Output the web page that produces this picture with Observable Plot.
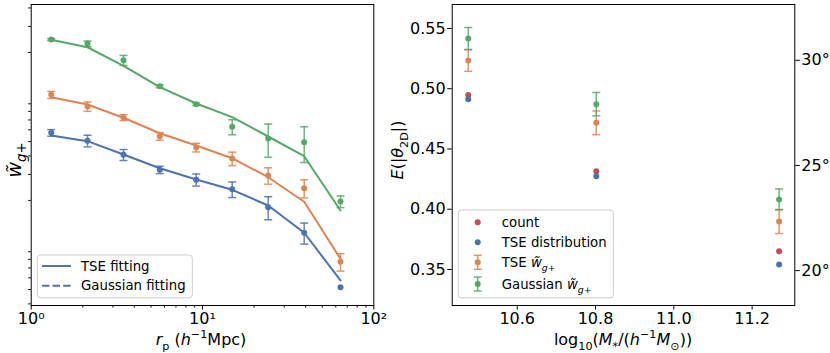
<!DOCTYPE html>
<html><head><meta charset="utf-8">
<script src="https://cdn.jsdelivr.net/npm/d3@7"></script>
<script src="https://cdn.jsdelivr.net/npm/@observablehq/plot@0.6"></script>
<style>
body{margin:0;background:#fff;}
#wrap{position:relative;width:830px;height:353px;background:#fff;font-family:"DejaVu Sans";}
#wrap svg{position:absolute;top:0;overflow:visible;}
</style></head><body><div id="wrap"></div>
<script>
// ---------- data: left panel (projected correlation w~g+ vs r_p) ----------
const rp = [1.309, 2.132, 3.458, 5.632, 9.19, 14.91, 24.18, 39.24, 63.9];
// blue series
const wgpBlue    = [0.00573, 0.00506, 0.00407, 0.00322, 0.00276, 0.00238, 0.00180, 0.00121, 0.000519];
const wgpBlueErr = [0.000294, 0.000456, 0.000348, 0.000185, 0.000257, 0.000288, 0.000319, 0.000196, 0];
const fitBlue    = [0.00550, 0.00503, 0.00409, 0.00330, 0.00277, 0.00236, 0.00185, 0.00121, 0.000576];
// orange series
const wgpOrange    = [0.01035, 0.00863, 0.00727, 0.00543, 0.00456, 0.00384, 0.00295, 0.00242, 0.00077];
const wgpOrangeErr = [0.000563, 0.000627, 0.00034, 0.000321, 0.000305, 0.0004, 0.000375, 0.000337, 0.000104];
const fitOrange    = [0.00997, 0.00890, 0.00724, 0.00569, 0.00470, 0.00386, 0.00287, 0.00196, 0.000807];
// green series
const wgpGreen    = [0.02445, 0.02288, 0.01773, 0.01183, 0.00894, 0.00629, 0.00524, 0.00495, 0.001967];
const wgpGreenErr = [0.00038, 0.00102, 0.00138, 0.000276, 0.000174, 0.000732, 0.00132, 0.00134, 0.000179];
const fitGreen    = [0.02435, 0.02170, 0.01625, 0.01165, 0.00904, 0.00731, 0.00541, 0.00398, 0.00171];
const xMajorTicks  = [1, 10, 100];
const xMajorLabels = ["10⁰", "10¹", "10²"];
const leftLegend   = ["TSE fitting", "Gaussian fitting"];

// ---------- data: right panel (E(|theta_2D|) vs stellar mass) ----------
const massBins    = [10.475, 10.802, 11.269];
const countE      = [0.4947, 0.4316, 0.3652];
const tseDistE    = [0.4913, 0.4274, 0.3541];
const tseWgpE     = [0.5234, 0.4717, 0.3898];
const tseWgpErr   = [0.0089, 0.0098, 0.0100];
const gaussWgpE   = [0.5417, 0.4872, 0.4081];
const gaussWgpErr = [0.0091, 0.0097, 0.0087];
const massTicks = [10.6, 10.8, 11.0, 11.2];
const eTicks    = [0.35, 0.40, 0.45, 0.50, 0.55];
const degTicks  = [20, 25, 30];

const C = {blue:"#4C72B0", orange:"#DD8452", green:"#55A868", red:"#C44E52"};
const FONT = "DejaVu Sans";
const yDomainLeft = [3.9e-4, 4.22e-2];

// minor tick positions for log axes (inside the domain only)
const xMinor = [], yMinor = [];
for (const dec of [1, 10]) for (let k = 2; k <= 9; k++) xMinor.push(k * dec);
for (const dec of [1e-4, 1e-3, 1e-2]) for (let k = 2; k <= 9; k++) {
  const v = k * dec;
  if (v >= yDomainLeft[0] && v <= yDomainLeft[1]) yMinor.push(v);
}

const cap = {draw(ctx) { ctx.moveTo(-4, 0); ctx.lineTo(4, 0); }};

function rows(xs, ys, es) { return xs.map((x, i) => ({x, y: ys[i], e: es ? es[i] : 0})); }
function errMarks(data, color) {
  const d = data.filter(r => r.e > 0);
  return [
    Plot.ruleX(d, {x: "x", y1: r => r.y - r.e, y2: r => r.y + r.e, stroke: color, strokeWidth: 1.5, strokeOpacity: 0.85}),
    Plot.dot(d, {x: "x", y: r => r.y + r.e, symbol: cap, stroke: color, fill: "none", strokeWidth: 1.5, strokeOpacity: 0.85}),
    Plot.dot(d, {x: "x", y: r => r.y - r.e, symbol: cap, stroke: color, fill: "none", strokeWidth: 1.5, strokeOpacity: 0.85})
  ];
}
function dots(data, color) { return Plot.dot(data, {x: "x", y: "y", r: 3, fill: color, stroke: "none"}); }

function rich(text, parts, base) {
  let cur = 0;
  for (const p of parts) {
    const shift = p.sub ? 0.3 * base : p.sup ? -0.42 * base : 0;
    const ts = text.append("tspan").text(p.t).attr("dy", (shift - cur) + "px");
    if (p.sub || p.sup) ts.attr("font-size", (0.7 * base) + "px");
    if (p.it) ts.attr("font-style", "italic");
    cur = shift;
  }
}

const style = {fontFamily: FONT, fontSize: "16px", color: "black", background: "transparent", overflow: "visible"};

// ---------- left panel ----------
const series = [
  {v: wgpBlue, e: wgpBlueErr, f: fitBlue, c: C.blue},
  {v: wgpOrange, e: wgpOrangeErr, f: fitOrange, c: C.orange},
  {v: wgpGreen, e: wgpGreenErr, f: fitGreen, c: C.green}
];
const leftMarks = [
  Plot.axisX({ticks: xMinor, tickSize: 2.5, tickFormat: () => "", label: null}),
  Plot.axisX({ticks: xMajorTicks, tickSize: 4.5, tickPadding: 2.5, tickFormat: d => xMajorLabels[xMajorTicks.indexOf(d)], label: null}),
  Plot.axisY({ticks: yMinor, tickSize: 2.5, tickFormat: () => "", label: null})
];
for (const s of series) leftMarks.push(Plot.line(rows(rp, s.f), {x: "x", y: "y", stroke: s.c, strokeWidth: 2}));
for (const s of series) { const d = rows(rp, s.v, s.e); leftMarks.push(...errMarks(d, s.c), dots(d, s.c)); }
leftMarks.push(Plot.frame({stroke: "black", strokeWidth: 1}));

const left = Plot.plot({
  width: 400, height: 353,
  marginLeft: 30.7, marginRight: 26.7, marginTop: 4, marginBottom: 48,
  style,
  x: {type: "log", domain: [1, 100]},
  y: {type: "log", domain: yDomainLeft},
  marks: leftMarks
});
left.style.left = "0px";

// ---------- right panel ----------
const rad = Math.PI / 180;
const right = Plot.plot({
  width: 450, height: 353,
  marginLeft: 71.7, marginRight: 35.7, marginTop: 4, marginBottom: 48,
  style,
  x: {domain: [10.434, 11.309]},
  y: {domain: [0.3201, 0.5699]},
  marks: [
    Plot.axisX({ticks: massTicks, tickSize: 4.5, tickPadding: 2.5, tickFormat: d => d.toFixed(1), label: null}),
    Plot.axisY({ticks: eTicks, tickSize: 4.5, tickPadding: 2, tickFormat: d => d.toFixed(2), label: null}),
    Plot.axisY({anchor: "right", ticks: degTicks.map(d => d * rad), tickSize: 4.5, tickPadding: 2, tickFormat: d => Math.round(d / rad) + "°", label: null}),
    dots(rows(massBins, countE), C.red),
    dots(rows(massBins, tseDistE), C.blue),
    ...errMarks(rows(massBins, tseWgpE, tseWgpErr), C.orange),
    dots(rows(massBins, tseWgpE), C.orange),
    ...errMarks(rows(massBins, gaussWgpE, gaussWgpErr), C.green),
    dots(rows(massBins, gaussWgpE), C.green),
    Plot.frame({stroke: "black", strokeWidth: 1})
  ]
});
right.style.left = "380px";

const wrap = document.getElementById("wrap");
wrap.appendChild(left);
wrap.appendChild(right);

// ---------- labels & legends ----------
const L = d3.select(left), R = d3.select(right);
const wgpParts = [{t: "w\u0303", it: true}, {t: "g", it: true, sub: true}, {t: "+", sub: true}];

// left axis labels
rich(L.append("text").attr("font-family", FONT).attr("font-size", 16).attr("text-anchor", "middle")
  .attr("x", 201).attr("y", 345),
  [{t: "r", it: true}, {t: "p", sub: true}, {t: " ("}, {t: "h", it: true}, {t: "−1", sup: true}, {t: "Mpc)"}], 16);
rich(L.append("text").attr("font-family", FONT).attr("font-size", 19).attr("text-anchor", "middle")
  .attr("transform", "translate(20.5,160) rotate(-90)"), wgpParts, 19);

// left legend
const lg = L.append("g").attr("font-family", FONT).attr("font-size", 13.3).attr("text-anchor", "start");
lg.append("rect").attr("x", 37.3).attr("y", 255).attr("width", 155).attr("height", 42.7).attr("rx", 3)
  .attr("fill", "white").attr("fill-opacity", 0.8).attr("stroke", "#cccccc");
lg.append("line").attr("x1", 42).attr("x2", 71).attr("y1", 266).attr("y2", 266).attr("stroke", C.blue).attr("stroke-width", 2);
lg.append("line").attr("x1", 42).attr("x2", 71).attr("y1", 285.7).attr("y2", 285.7).attr("stroke", C.blue).attr("stroke-width", 2).attr("stroke-dasharray", "7.4,3.2");
lg.append("text").attr("x", 81).attr("y", 270.7).text(leftLegend[0]);
lg.append("text").attr("x", 81).attr("y", 290.4).text(leftLegend[1]);

// right axis labels
rich(R.append("text").attr("font-family", FONT).attr("font-size", 16).attr("text-anchor", "middle")
  .attr("x", 243).attr("y", 345),
  [{t: "log"}, {t: "10", sub: true}, {t: "("}, {t: "M", it: true}, {t: "*", sub: true}, {t: "/("}, {t: "h", it: true}, {t: "−1", sup: true}, {t: "M", it: true}, {t: "⊙", sub: true}, {t: "))"}], 16);
rich(R.append("text").attr("font-family", FONT).attr("font-size", 16).attr("text-anchor", "middle")
  .attr("transform", "translate(23,150) rotate(-90)"),
  [{t: "E", it: true}, {t: "(|"}, {t: "θ", it: true}, {t: "2D", sub: true}, {t: "|)"}], 16);

// right legend
const rg = R.append("g").attr("font-family", FONT).attr("font-size", 13.3).attr("text-anchor", "start");
rg.append("rect").attr("x", 78.3).attr("y", 210).attr("width", 155).attr("height", 87.7).attr("rx", 3)
  .attr("fill", "white").attr("fill-opacity", 0.8).attr("stroke", "#cccccc");
const items = [
  {c: C.red, err: false, parts: [{t: "count"}], y: 222.3},
  {c: C.blue, err: false, parts: [{t: "TSE distribution"}], y: 242.3},
  {c: C.orange, err: true, parts: [{t: "TSE "}, ...wgpParts], y: 262.3},
  {c: C.green, err: true, parts: [{t: "Gaussian "}, ...wgpParts], y: 284}
];
for (const it of items) {
  const mx = 97.7;
  if (it.err) {
    rg.append("line").attr("x1", mx).attr("x2", mx).attr("y1", it.y - 7).attr("y2", it.y + 7).attr("stroke", it.c).attr("stroke-width", 1.5).attr("stroke-opacity", 0.85);
    for (const dy of [-7, 7]) rg.append("line").attr("x1", mx - 4).attr("x2", mx + 4).attr("y1", it.y + dy).attr("y2", it.y + dy).attr("stroke", it.c).attr("stroke-width", 1.5).attr("stroke-opacity", 0.85);
  }
  rg.append("circle").attr("cx", mx).attr("cy", it.y).attr("r", 3).attr("fill", it.c);
  rich(rg.append("text").attr("x", 121.7).attr("y", it.y + 4.7), it.parts, 13.3);
}
</script></body></html>
